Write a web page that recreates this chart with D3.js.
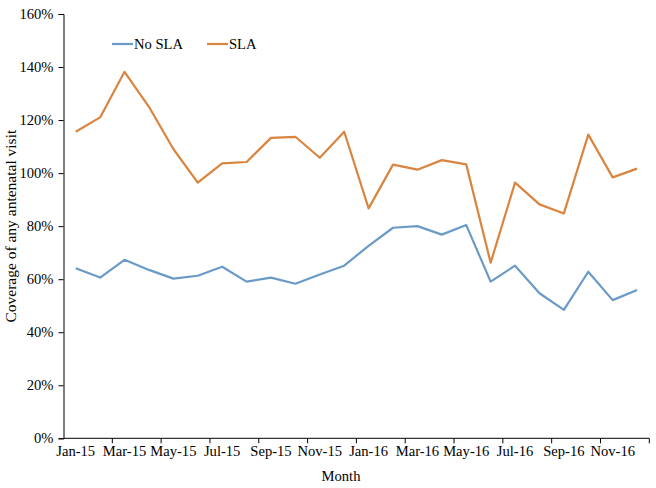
<!DOCTYPE html>
<html><head><meta charset="utf-8">
<script src="https://cdn.jsdelivr.net/npm/d3@7"></script>
<style>body{margin:0;background:#fff}svg text{font-family:"Liberation Serif","Times New Roman",serif;}</style>
</head><body><svg id="c" width="656" height="488"></svg>
<script>
const months = ["Jan-15","Feb-15","Mar-15","Apr-15","May-15","Jun-15","Jul-15","Aug-15","Sep-15","Oct-15","Nov-15","Dec-15",
                "Jan-16","Feb-16","Mar-16","Apr-16","May-16","Jun-16","Jul-16","Aug-16","Sep-16","Oct-16","Nov-16","Dec-16"];
const noSLA = [64.1,60.6,67.3,63.5,60.2,61.3,64.7,59.1,60.6,58.3,61.8,65.1,
               72.6,79.4,80.0,76.8,80.4,59.1,65.1,54.7,48.4,62.8,52.1,55.9];
const SLA = [115.6,121.0,138.2,125.0,109.1,96.4,103.7,104.2,113.3,113.7,105.8,115.6,
             86.7,103.2,101.3,104.9,103.3,66.2,96.4,88.2,84.8,114.5,98.4,101.7];
const yTicks = [0,20,40,60,80,100,120,140,160];
const seriesNames = ["No SLA","SLA"];
const colors = ["#6a9bc8","#d9843f"];

const FS = 14.6;
const svg = d3.select("#c");
const L=63.5, R=649.3, T=14, B=438.3;
const x = d3.scaleBand().domain(months).range([L,R]);
const y = d3.scaleLinear().domain([0,160]).range([B,T]);

// y axis
const ya = svg.append("g").attr("transform",`translate(${L},0)`)
  .call(d3.axisLeft(y).tickValues(yTicks).tickSize(5).tickFormat(d=>d+"%"));
ya.select(".domain").attr("stroke","#000");
ya.selectAll(".tick line").attr("stroke","#000");
ya.selectAll("text").attr("font-size",FS).attr("fill","#000").attr("x",-10);

// x axis
const xa = svg.append("g").attr("transform",`translate(0,${B})`);
xa.append("line").attr("x1",L).attr("x2",R).attr("y1",0).attr("y2",0).attr("stroke","#000");
months.forEach((m,i)=>{ if(i%2===0 && i>0) xa.append("line").attr("x1",x(m)).attr("x2",x(m)).attr("y1",0).attr("y2",5).attr("stroke","#000"); });
xa.append("line").attr("x1",R).attr("x2",R).attr("y1",0).attr("y2",5).attr("stroke","#000");
months.filter((d,i)=>i%2===0).forEach(m=>{
  xa.append("text").attr("x",x(m)+x.bandwidth()/2).attr("y",18).attr("text-anchor","middle")
    .attr("font-size",FS).attr("fill","#000").text(m);
});

// lines
const line = d3.line().x((d,i)=>x(months[i])+x.bandwidth()/2).y(d=>y(d));
[noSLA,SLA].forEach((s,k)=>{
  svg.append("path").datum(s).attr("d",line).attr("fill","none")
    .attr("stroke",colors[k]).attr("stroke-width",2.2).attr("stroke-linejoin","round");
});

// legend
const legX=[112,207];
seriesNames.forEach((n,k)=>{
  svg.append("line").attr("x1",legX[k]).attr("x2",legX[k]+21).attr("y1",44).attr("y2",44)
    .attr("stroke",colors[k]).attr("stroke-width",2.2);
  svg.append("text").attr("x",legX[k]+22).attr("y",49).attr("font-size",FS).attr("fill","#000").text(n);
});

// titles
svg.append("text").attr("transform",`translate(15.5,${(T+B)/2}) rotate(-90)`).attr("text-anchor","middle")
  .attr("font-size",15.5).attr("fill","#000").text("Coverage of any antenatal visit");
svg.append("text").attr("x",341).attr("y",481).attr("text-anchor","middle")
  .attr("font-size",FS).attr("fill","#000").text("Month");
</script></body></html>
